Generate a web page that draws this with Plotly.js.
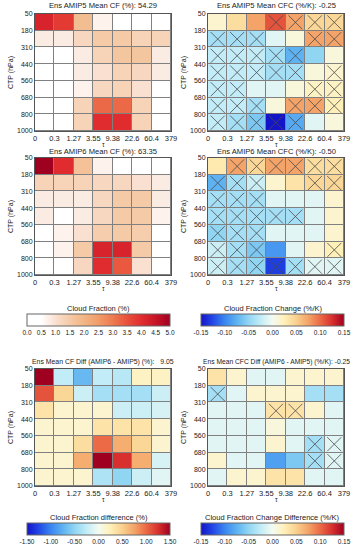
<!DOCTYPE html>
<html><head><meta charset="utf-8">
<script src="https://cdn.plot.ly/plotly-3.0.1.min.js"></script>
<style>html,body{margin:0;padding:0;background:#fff}#chart{width:357px;height:550px}</style>
</head><body><div id="chart"></div>
<script>
const tauLabels = ['0','0.3','1.27','3.55','9.38','22.6','60.4','379'];
const ctpLabels = ['50','180','310','440','560','680','800','1000'];

// rows from top (50-180 hPa) to bottom (800-1000 hPa), columns by tau bin
const cfAmip5 = [
  [4.2,3.8,1.8,0.7,0.2,0.2,0.2],
  [0.8,0.8,1.2,1.5,1.5,1.3,1.3],
  [0.3,0.3,0.8,1.3,1.6,1.6,0.8],
  [0.3,0.3,0.8,1.0,1.3,1.2,0.8],
  [0.2,0.2,0.7,1.2,1.3,1.0,0.4],
  [0.2,0.2,1.3,3.2,3.2,1.3,0.3],
  [0.2,0.2,1.3,4.0,4.0,1.3,0.3]
];
const cfAmip6 = [
  [5.0,4.0,1.7,0.7,0.2,0.2,0.3],
  [1.3,1.3,1.3,1.2,1.2,1.0,0.8],
  [0.8,0.8,0.8,1.2,1.5,1.5,0.8],
  [0.8,0.1,0.8,1.2,1.5,1.5,0.7],
  [0.2,0.7,1.0,1.4,1.5,1.4,0.4],
  [0.2,0.7,1.5,4.2,4.2,1.5,0.3],
  [0.2,0.3,1.2,4.0,3.4,1.0,0.3]
];
const cfcAmip5 = [
  [0.015,0.04,0.075,0.11,0.075,0.045,0.045],
  [-0.04,-0.04,-0.04,-0.01,0.01,0.075,0.075],
  [-0.025,-0.025,-0.025,-0.04,-0.075,-0.05,0.01],
  [-0.025,-0.025,-0.025,-0.04,-0.04,0.01,0.015],
  [-0.025,-0.025,-0.01,-0.01,0.01,0.02,0.02],
  [-0.025,-0.025,-0.04,0.01,0.075,0.075,0.025],
  [-0.025,-0.04,-0.06,-0.15,-0.08,-0.01,0.01]
];
const sigAmip5 = [
  [0,0,0,1,1,1,1],
  [1,1,1,0,0,1,1],
  [1,1,1,1,1,0,0],
  [1,1,1,1,1,0,1],
  [1,1,0,0,0,1,1],
  [1,1,1,0,1,1,1],
  [1,1,1,1,1,0,0]
];
const cfcAmip6 = [
  [0.03,0.075,0.045,0.075,0.075,0.04,0.04],
  [-0.075,-0.04,-0.02,0.015,0.035,0.045,0.045],
  [-0.04,-0.04,-0.04,-0.01,-0.01,-0.01,0.015],
  [-0.04,-0.04,-0.04,-0.04,-0.04,-0.01,0.015],
  [-0.05,-0.04,-0.04,-0.01,-0.01,-0.01,0.015],
  [-0.02,-0.04,-0.06,-0.09,-0.01,0.015,0.025],
  [-0.02,-0.04,-0.05,-0.13,-0.04,-0.01,-0.01]
];
const sigAmip6 = [
  [0,1,1,1,1,1,1],
  [1,1,1,0,0,1,1],
  [1,1,1,0,0,0,0],
  [1,1,1,1,1,0,0],
  [1,1,1,0,0,0,0],
  [1,1,1,0,0,0,1],
  [1,1,1,1,1,1,1]
];
const cfDiff = [
  [1.5,-0.25,-0.7,-0.25,-0.3,0.2,0.2],
  [1.1,0.45,-0.2,-0.4,-0.4,-0.4,-0.2],
  [0.35,0.15,0.15,0.15,-0.2,-0.2,-0.15],
  [0.15,0.15,0.15,0.35,0.35,0.35,0.15],
  [0.15,0.15,0.4,1.0,0.7,0.45,0.15],
  [0.15,0.15,0.7,1.5,1.25,0.7,-0.15],
  [0.15,0.15,0.15,-0.35,-0.5,-0.2,-0.1]
];
const cfcDiff = [
  [0.035,0.015,-0.01,-0.01,0.015,0.015,0.015],
  [-0.04,-0.01,0.015,0.015,0.015,-0.04,-0.04],
  [-0.01,-0.01,-0.01,0.035,0.035,0.015,-0.01],
  [-0.01,-0.01,-0.01,0.01,-0.01,-0.01,-0.01],
  [-0.01,-0.01,-0.01,0.015,-0.01,-0.04,-0.01],
  [0.015,-0.01,-0.01,-0.085,-0.06,-0.04,-0.01],
  [-0.01,0.015,0.015,0.035,0.035,-0.01,-0.01]
];
const sigDiff = [
  [0,0,0,0,0,0,0],
  [1,0,0,0,0,0,0],
  [0,0,0,1,1,0,0],
  [0,0,0,0,0,0,0],
  [0,0,0,0,0,1,1],
  [0,0,0,0,0,1,1],
  [0,0,0,0,0,0,0]
];
const titles = [
  'Ens AMIP5 Mean CF (%): 54.29',
  'Ens AMIP5 Mean CFC (%/K): -0.25',
  'Ens AMIP6 Mean CF (%): 63.35',
  'Ens AMIP6 Mean CFC (%/K): -0.50',
  'Ens Mean CF Diff (AMIP6 - AMIP5) (%):   9.05',
  'Ens Mean CFC Diff (AMIP6 - AMIP5) (%/K): -0.25'
];
const cfTicks = ['0.0','0.5','1.0','1.5','2.0','2.5','3.0','3.5','4.0','4.5','5.0'];
const cfcTicks = ['-0.15','-0.10','-0.05','0.00','0.05','0.10','0.15'];
const diffTicks = ['-1.50','-1.00','-0.50','0.00','0.50','1.00','1.50'];

const W = 357, H = 550;
const centers = [0.5,1.5,2.5,3.5,4.5,5.5,6.5];
const FONT = 'Liberation Sans, Arial, sans-serif';

const cfScale = [[0,'#ffffff'],[0.1,'#ffffff'],[0.2,'#f9e0d0'],[0.3,'#f5caa6'],[0.4,'#f2b484'],[0.5,'#f09c68'],[0.6,'#ee7a50'],[0.7,'#e9503c'],[0.8,'#e02c2e'],[0.9,'#c71528'],[1,'#a00020']];
const divScale = [[0,'#1414c8'],[0.083,'#2248e6'],[0.167,'#3a86f0'],[0.25,'#5eb2f2'],[0.333,'#90d6f3'],[0.417,'#c2ecf7'],[0.5,'#f4fbf2'],[0.583,'#fff0b8'],[0.667,'#f9d08e'],[0.75,'#f4a468'],[0.833,'#ec6a46'],[0.917,'#d7302e'],[1,'#a00020']];

// pixel layout
const colX = [[35,171],[208,344]];
const rowY = [[14,131],[158,275],[369,486]];
const titleSize = [7.6,7.6,7.6,7.6,6.9,6.7];
const titleShift = [2,2,0,0,1,1];
const px = v => v / W, py = v => 1 - v / H;

const data = [], layout = {
  width: W, height: H, margin: {l:0,r:0,t:0,b:0},
  paper_bgcolor: '#fff', plot_bgcolor: '#808080',
  font: {family: FONT, size: 7, color: '#222'},
  showlegend: false, annotations: []
};

const panels = [
  {z: cfAmip5, ca: 'coloraxis'},
  {z: cfcAmip5, ca: 'coloraxis2', sig: sigAmip5},
  {z: cfAmip6, ca: 'coloraxis'},
  {z: cfcAmip6, ca: 'coloraxis2', sig: sigAmip6},
  {z: cfDiff, ca: 'coloraxis3'},
  {z: cfcDiff, ca: 'coloraxis4', sig: sigDiff}
];

panels.forEach((p, i) => {
  const n = i + 1;
  const xa = n === 1 ? 'x' : 'x' + n, ya = n === 1 ? 'y' : 'y' + n;
  const cx = colX[i % 2], ry = rowY[Math.floor(i / 2)];
  data.push({type: 'heatmap', z: p.z, x: centers, y: centers, coloraxis: p.ca,
    xaxis: xa, yaxis: ya, xgap: 1, ygap: 1, hoverinfo: 'skip'});
  if (p.sig) {
    const sx = [], sy = [];
    p.sig.forEach((row, r) => row.forEach((v, c) => { if (v) { sx.push(centers[c]); sy.push(centers[r]); } }));
    data.push({type: 'scatter', mode: 'markers', x: sx, y: sy, xaxis: xa, yaxis: ya,
      marker: {symbol: 'x-thin', size: 14, line: {width: 0.8, color: '#4a4a4a'}}, hoverinfo: 'skip'});
  }
  const axName = n === 1 ? '' : n;
  layout['xaxis' + axName] = {
    domain: [px(cx[0]), px(cx[1])], anchor: ya, range: [0, 7],
    tickmode: 'array', tickvals: [0,1,2,3,4,5,6,7], ticktext: tauLabels,
    showgrid: false, zeroline: false, showline: true, mirror: true, linecolor: '#555', linewidth: 1,
    ticks: '', tickfont: {size: 7.5, family: FONT, color: '#222'}, fixedrange: true
  };
  layout['yaxis' + axName] = {
    domain: [py(ry[1]), py(ry[0])], anchor: xa, range: [7, 0],
    tickmode: 'array', tickvals: [0,1,2,3,4,5,6,7], ticktext: ctpLabels,
    showgrid: false, zeroline: false, showline: true, mirror: true, linecolor: '#555', linewidth: 1,
    ticks: '', tickfont: {size: 7, family: FONT, color: '#222'},
    title: {text: 'CTP (hPa)', font: {size: 7, family: FONT}, standoff: 2}, fixedrange: true
  };
  layout.annotations.push({text: titles[i], xref: xa + ' domain', yref: ya + ' domain',
    x: 0.5, y: 1, xanchor: 'center', yanchor: 'bottom', yshift: titleShift[i], showarrow: false,
    font: {size: titleSize[i], family: FONT, color: '#222'}});
  layout.annotations.push({text: 'τ', xref: xa + ' domain', yref: ya + ' domain',
    x: 0.5, y: 0, xanchor: 'center', yanchor: 'middle', yshift: -13, showarrow: false,
    font: {size: 6.5, family: FONT, color: '#222'}});
});

function cbar(ticks, x0, x1, yTop) {
  const vals = ticks.map(t => parseFloat(t));
  return {
    orientation: 'h', x: px((x0 + x1) / 2), xanchor: 'center', y: py(yTop), yanchor: 'top',
    len: (x1 - x0) / W, lenmode: 'fraction', thickness: 12, thicknessmode: 'pixels',
    xpad: 0, ypad: 0, outlinewidth: 1, outlinecolor: '#666',
    tickmode: 'array', tickvals: vals, ticktext: ticks, ticks: '', ticklabelpad: 0,
    tickfont: {size: 6.5, family: FONT, color: '#222'}
  };
}
function cbTitle(text, x0, x1, yMid) {
  layout.annotations.push({text: text, xref: 'paper', yref: 'paper', x: px((x0 + x1) / 2), y: py(yMid),
    xanchor: 'center', yanchor: 'middle', showarrow: false, font: {size: 7.5, family: FONT, color: '#222'}});
}
layout.coloraxis = {cmin: 0, cmax: 5, colorscale: cfScale, colorbar: cbar(cfTicks, 27, 170, 314)};
layout.coloraxis2 = {cmin: -0.15, cmax: 0.15, colorscale: divScale, colorbar: cbar(cfcTicks, 201, 344, 314)};
layout.coloraxis3 = {cmin: -1.5, cmax: 1.5, colorscale: divScale, colorbar: cbar(diffTicks, 27, 170, 523)};
layout.coloraxis4 = {cmin: -0.15, cmax: 0.15, colorscale: divScale, colorbar: cbar(cfcTicks, 201, 344, 523)};
cbTitle('Cloud Fraction (%)', 27, 170, 308);
cbTitle('Cloud Fraction Change (%/K)', 201, 344, 308);
cbTitle('Cloud Fraction difference (%)', 27, 170, 517);
cbTitle('Cloud Fraction Change Difference (%/K)', 201, 344, 517);

Plotly.newPlot('chart', data, layout, {staticPlot: true, displayModeBar: false});
</script></body></html>
